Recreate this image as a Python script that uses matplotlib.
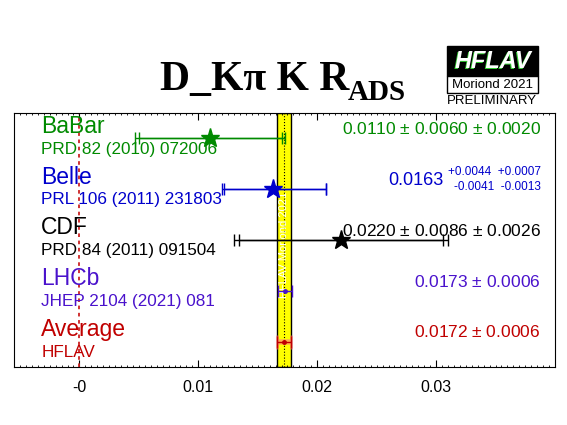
import matplotlib as mpl
mpl.use('Agg')
import matplotlib.pyplot as plt
from matplotlib.patches import Rectangle
from matplotlib.ticker import MultipleLocator, FixedLocator

# measurements, top to bottom
experiments = ["BaBar", "Belle", "CDF", "LHCb", "Average"]
references = ["PRD 82 (2010) 072006", "PRL 106 (2011) 231803",
              "PRD 84 (2011) 091504", "JHEP 2104 (2021) 081", "HFLAV"]
values = [0.0110, 0.0163, 0.0220, 0.0173, 0.0172]
statLo = [0.0060, 0.0041, 0.0086, 0.0006, 0.0006]
statHi = [0.0060, 0.0044, 0.0086, 0.0006, 0.0006]
systLo = [0.0020, 0.0013, 0.0026, 0.0, 0.0]
systHi = [0.0020, 0.0007, 0.0026, 0.0, 0.0]
valueTexts = ["0.0110 $\\pm$ 0.0060 $\\pm$ 0.0020", None,
              "0.0220 $\\pm$ 0.0086 $\\pm$ 0.0026",
              "0.0173 $\\pm$ 0.0006", "0.0172 $\\pm$ 0.0006"]
colors = ["#008a00", "#0000cc", "#000000", "#4a12cc", "#c00000"]
markers = ["*", "*", "*", ".", "."]
avg = 0.0172
avgErr = 0.0006

W, H = 567, 425
def fx(x):
    return x / float(W)
def fy(y):
    return 1 - y / float(H)

plt.rcParams['font.family'] = ['Liberation Sans', 'DejaVu Sans']
plt.rcParams['mathtext.fontset'] = 'custom'
plt.rcParams['mathtext.rm'] = 'Liberation Sans'

fig = plt.figure(figsize=(5.67, 4.25), dpi=100)
ax = fig.add_axes([fx(14), fy(367), fx(555) - fx(14), fy(113) - fy(367)])
ax.set_xlim(-0.0055, 0.0400)
ax.set_ylim(0.5, 5.5)

# average band
ax.axvspan(avg - avgErr, avg + avgErr, facecolor='#ffff00', edgecolor='black', lw=1, zorder=1)
ax.axvline(avg, color='black', ls=':', lw=0.8, zorder=2)
ax.axvline(0, color='#cc2222', ls=(0, (2, 2)), lw=1.3, zorder=2)
ax.text(avg, 2.9, "HFLAV Moriond 2021", rotation=90, color='white', fontsize=8,
        ha='center', va='center', zorder=3)

n = len(experiments)
for i in range(n):
    y = n - i
    c = colors[i]
    totLo = (statLo[i] ** 2 + systLo[i] ** 2) ** 0.5
    totHi = (statHi[i] ** 2 + systHi[i] ** 2) ** 0.5
    if experiments[i] == "Average":
        ax.errorbar([values[i]], [y], xerr=[[totLo], [totHi]], fmt='none',
                    ecolor='#ff8080', elinewidth=4, capsize=5, capthick=2, zorder=4, alpha=0.6)
    ax.errorbar([values[i]], [y], xerr=[[totLo], [totHi]], fmt='none',
                ecolor=c, elinewidth=1, capsize=4, capthick=1, zorder=5)
    if systLo[i] > 0:
        ax.errorbar([values[i]], [y], xerr=[[statLo[i]], [statHi[i]]], fmt='none',
                    ecolor=c, elinewidth=1, capsize=4, capthick=1, zorder=5)
    ms = 14 if markers[i] == "*" else 5
    ax.plot([values[i]], [y], marker=markers[i], color=c, ms=ms, zorder=6, ls='none')

    ax.text(-0.0032, y + 0.24, experiments[i], color=c, fontsize=16.5, ha='left', va='center')
    ax.text(-0.0032, y - 0.21, references[i], color=c, fontsize=12.3, ha='left', va='center')
    if valueTexts[i] is not None:
        ax.text(0.0388, y + 0.18, valueTexts[i], color=c, fontsize=12.5, ha='right', va='center')
    else:
        ax.text(0.0306, y + 0.18, "%.4f" % values[i], color=c, fontsize=13, ha='right', va='center')
        ax.text(0.0388, y + 0.34, "+%.4f  +%.4f" % (statHi[i], systHi[i]), color=c,
                fontsize=8.5, ha='right', va='center')
        ax.text(0.0388, y + 0.05, "-%.4f  -%.4f" % (statLo[i], systLo[i]), color=c,
                fontsize=8.5, ha='right', va='center')

ax.set_yticks([])
ax.xaxis.set_major_locator(FixedLocator([0.0, 0.01, 0.02, 0.03]))
ax.set_xticklabels(["-0", "0.01", "0.02", "0.03"], fontsize=11.5)
ax.xaxis.set_minor_locator(MultipleLocator(0.0005))
ax.tick_params(axis='x', which='major', direction='in', length=5, top=True, pad=9)
ax.tick_params(axis='x', which='minor', direction='in', length=1.5, top=True)

# title
fig.text(fx(160), fy(90), "D_K\u03c0 K R", fontsize=30, fontweight='bold',
         family='Liberation Serif', ha='left', va='baseline')
fig.text(fx(348), fy(100), "ADS", fontsize=21, fontweight='bold',
         family='Liberation Serif', ha='left', va='baseline')

# HFLAV logo
fig.patches.append(Rectangle((fx(447), fy(76)), fx(538) - fx(447), fy(46) - fy(76),
                             transform=fig.transFigure, facecolor='black', edgecolor='black'))
fig.patches.append(Rectangle((fx(447), fy(93)), fx(538) - fx(447), fy(76) - fy(93),
                             transform=fig.transFigure, facecolor='white', edgecolor='black', lw=1))
fig.text(fx(493) - 0.0015, fy(62) - 0.002, "HFLAV", color='#33cc33', fontsize=17,
         fontweight='bold', style='italic', ha='center', va='center')
fig.text(fx(493), fy(62), "HFLAV", color='white', fontsize=17,
         fontweight='bold', style='italic', ha='center', va='center')
fig.text(fx(492), fy(85), "Moriond 2021", color='black', fontsize=9.5, ha='center', va='center')
fig.text(fx(492), fy(101), "PRELIMINARY", color='black', fontsize=9.5, ha='center', va='center')

fig.savefig("out.png", dpi=100)
